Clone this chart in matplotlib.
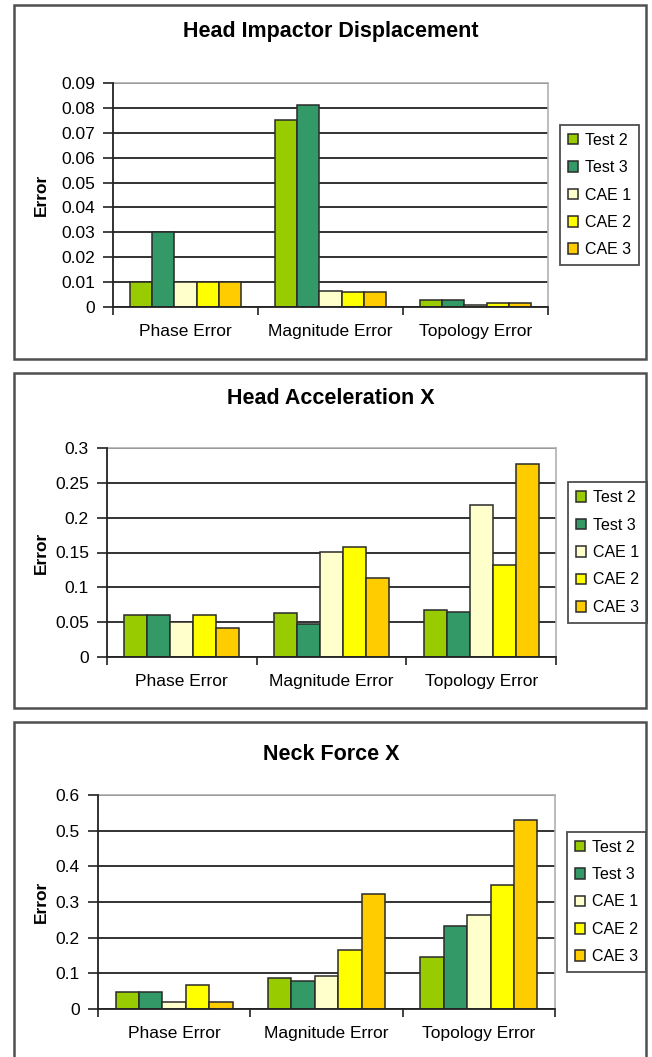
import numpy as np
import matplotlib
matplotlib.use("Agg")
import matplotlib.pyplot as plt
from matplotlib.patches import Rectangle

plt.rcParams['font.family'] = ['Liberation Sans', 'DejaVu Sans']

W, H = 652, 1057   # figure size in pixels

categories = ["Phase Error", "Magnitude Error", "Topology Error"]
series = ["Test 2", "Test 3", "CAE 1", "CAE 2", "CAE 3"]
colors = ["#99CC00", "#339966", "#FFFFCC", "#FFFF00", "#FFCC00"]

# error values per series: [phase, magnitude, topology]
disp_vals = [
    [0.010, 0.075, 0.003],
    [0.030, 0.081, 0.003],
    [0.010, 0.0065, 0.001],
    [0.010, 0.006, 0.0015],
    [0.010, 0.006, 0.0015],
]
acc_vals = [
    [0.060, 0.063, 0.067],
    [0.060, 0.048, 0.065],
    [0.050, 0.151, 0.218],
    [0.060, 0.158, 0.132],
    [0.041, 0.113, 0.277],
]
force_vals = [
    [0.048, 0.086, 0.146],
    [0.048, 0.079, 0.233],
    [0.019, 0.093, 0.263],
    [0.067, 0.165, 0.348],
    [0.019, 0.322, 0.529],
]

titles = ["Head Impactor Displacement", "Head Acceleration X", "Neck Force X"]
yticks = [np.arange(0, 0.091, 0.01), np.arange(0, 0.31, 0.05), np.arange(0, 0.61, 0.1)]
ytick_labels = [
    ["0", "0.01", "0.02", "0.03", "0.04", "0.05", "0.06", "0.07", "0.08", "0.09"],
    ["0", "0.05", "0.1", "0.15", "0.2", "0.25", "0.3"],
    ["0", "0.1", "0.2", "0.3", "0.4", "0.5", "0.6"],
]
all_vals = [disp_vals, acc_vals, force_vals]

# panel layout in pixels
boxes = [(5, 359), (373, 708), (722, 1080)]
axes_px = [(113, 548, 83, 307), (107, 556, 448, 657), (98, 555, 795, 1009)]
title_y = [31, 398, 755]
legend_x = [560, 568, 567]


def fx(x):
    return x / W


def fy(y):
    return 1 - y / H


fig = plt.figure(figsize=(W / 100, H / 100), dpi=100)

for k in range(3):
    top, bot = boxes[k]
    fig.patches.append(Rectangle((fx(14), fy(bot)), fx(646) - fx(14), fy(top) - fy(bot),
                                 transform=fig.transFigure, fill=False,
                                 edgecolor="#505050", linewidth=1.8, zorder=0))
    l, r, t, b = axes_px[k]
    ax = fig.add_axes([fx(l), fy(b), fx(r) - fx(l), fy(t) - fy(b)])

    vals = all_vals[k]
    x = np.arange(len(categories))
    w = 1 / 6.5
    for i in range(len(series)):
        ax.bar(x + (i - 2) * w, vals[i], w, color=colors[i], edgecolor="#2a2a2a",
               linewidth=1.1, label=series[i], zorder=3)

    ax.set_xlim(-0.5, 2.5)
    ax.set_ylim(0, yticks[k][-1])
    ax.set_yticks(yticks[k])
    ax.set_yticklabels(ytick_labels[k], fontsize=12.5)
    ax.set_xticks([-0.5, 0.5, 1.5, 2.5])
    ax.set_xticklabels([])
    ax.set_xticks(x, minor=True)
    ax.set_xticklabels(categories, minor=True, fontsize=12.5)
    ax.tick_params(axis="x", which="minor", length=0, pad=12)
    ax.tick_params(axis="x", which="major", direction="out", length=6, width=1.2, color="#222222")
    ax.tick_params(axis="y", direction="out", length=7, width=1.2, color="#222222", pad=6)

    ax.yaxis.grid(True, color="#222222", linewidth=1.3, zorder=1)
    ax.set_axisbelow(True)
    for s in ["top", "right"]:
        ax.spines[s].set_color("#b0b0b0")
        ax.spines[s].set_linewidth(1.2)
    for s in ["left", "bottom"]:
        ax.spines[s].set_color("#222222")
        ax.spines[s].set_linewidth(1.3)
        ax.spines[s].set_zorder(4)

    fig.text(fx(41), (fy(t) + fy(b)) / 2, "Error", rotation=90, ha="center", va="center",
             fontsize=12.5, fontweight="bold")
    fig.text(fx(331), fy(title_y[k]), titles[k], ha="center", va="center",
             fontsize=15.5, fontweight="bold")

    leg = ax.legend(loc="center left", bbox_to_anchor=(fx(legend_x[k]), (fy(t) + fy(b)) / 2),
                    bbox_transform=fig.transFigure, fontsize=11.5, frameon=True, fancybox=False,
                    handlelength=0.65, handleheight=0.65, handletextpad=0.4,
                    labelspacing=0.78, borderpad=0.5, borderaxespad=0)
    leg.get_frame().set_edgecolor("#222222")
    leg.get_frame().set_linewidth(1.3)

fig.savefig("out.png", dpi=100)
